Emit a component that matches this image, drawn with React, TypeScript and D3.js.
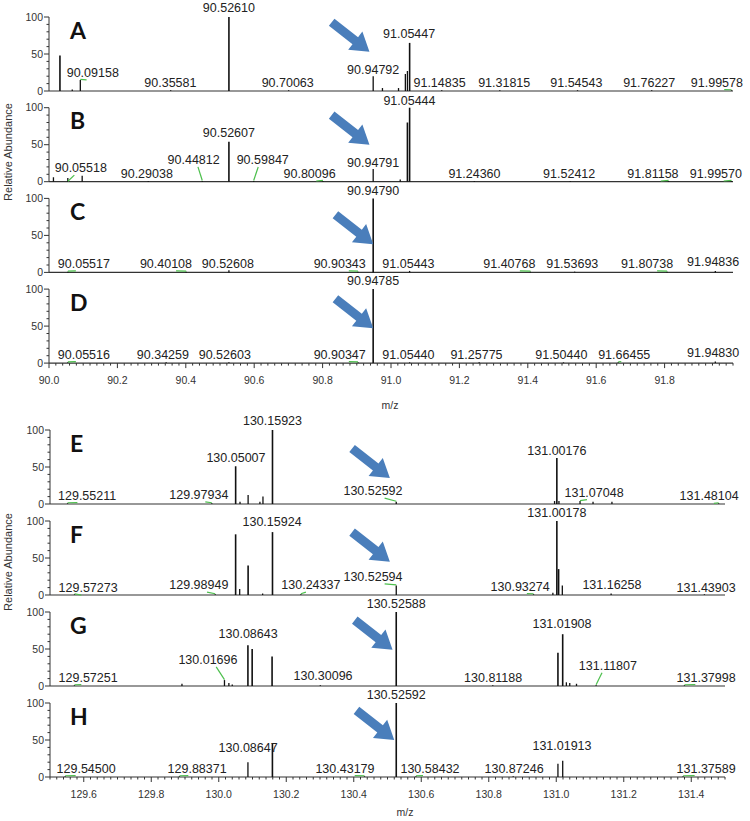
import React from "react";
import * as d3 from "d3";

const W = 750;
const H = 821;

type Peak = [number, number];
type Label = [number, number, number]; // peak m/z, label centre m/z, label baseline (rel. abundance)

// ---------- top group (m/z 90-92) ----------
const peaksA: Peak[] = [
  [90.032, 48], [90.068, 2], [90.09158, 15], [90.35581, 1], [90.5261, 100], [90.70063, 1],
  [90.94792, 20], [90.975, 4], [91.022, 4], [91.042, 23], [91.048, 27], [91.05447, 65],
  [91.14835, 1], [91.31815, 1], [91.54543, 1], [91.76227, 1], [91.99578, 1],
];
const labelsA: Label[] = [
  [90.09158, 90.128, 19], [90.35581, 90.355, 6], [90.5261, 90.5261, 107], [90.70063, 90.698, 6],
  [90.94792, 90.94792, 23], [91.05447, 91.053, 72], [91.14835, 91.142, 6], [91.31815, 91.331, 6],
  [91.54543, 91.542, 6], [91.76227, 91.755, 5], [91.99578, 91.953, 6],
];
const peaksB: Peak[] = [
  [90.013, 6], [90.055, 5], [90.097, 8], [90.29038, 1], [90.44812, 1], [90.52607, 54],
  [90.59847, 1], [90.80096, 1], [90.94791, 17], [91.027, 3], [91.048, 80], [91.05444, 100],
  [91.2436, 1], [91.52412, 1], [91.81158, 1], [91.9957, 1],
];
const labelsB: Label[] = [
  [90.05518, 90.093, 13], [90.29038, 90.286, 5], [90.44812, 90.423, 24], [90.52607, 90.52607, 60],
  [90.59847, 90.625, 24], [90.80096, 90.762, 5], [90.94791, 90.94791, 20], [91.05444, 91.054, 103],
  [91.2436, 91.244, 5], [91.52412, 91.521, 5], [91.81158, 91.766, 5], [91.9957, 91.95, 5],
];
const peaksC: Peak[] = [
  [90.05517, 1], [90.40108, 1], [90.52608, 3], [90.90343, 1], [90.9479, 100], [91.05443, 2],
  [91.40768, 1], [91.53693, 1], [91.80738, 1], [91.94836, 2],
];
const labelsC: Label[] = [
  [90.05517, 90.102, 6], [90.40108, 90.342, 6], [90.52608, 90.523, 6], [90.90343, 90.85, 6],
  [90.9479, 90.9479, 105], [91.05443, 91.051, 6], [91.40768, 91.346, 6], [91.53693, 91.53, 6],
  [91.80738, 91.749, 6], [91.94836, 91.942, 8],
];
const peaksD: Peak[] = [
  [90.05516, 1], [90.34259, 1], [90.52603, 1], [90.90347, 1], [90.94785, 100], [91.0544, 1],
  [91.25775, 1], [91.5044, 1], [91.66455, 1], [91.9483, 2],
];
const labelsD: Label[] = [
  [90.05516, 90.102, 6], [90.34259, 90.333, 6], [90.52603, 90.514, 6], [90.90347, 90.85, 6],
  [90.94785, 90.94785, 105], [91.0544, 91.051, 6], [91.25775, 91.25, 6], [91.5044, 91.498, 6],
  [91.66455, 91.682, 6], [91.9483, 91.942, 8],
];

// ---------- bottom group (m/z 129.5-131.5) ----------
const peaksE: Peak[] = [
  [129.55211, 1], [129.97934, 1], [130.05007, 51], [130.063, 3], [130.087, 12], [130.122, 3],
  [130.131, 10], [130.15923, 100], [130.52592, 3], [130.995, 4], [131.00176, 62], [131.008, 4],
  [131.07048, 4], [131.109, 3], [131.165, 3], [131.48104, 1],
];
const labelsE: Label[] = [
  [129.55211, 129.61, 6], [129.97934, 129.941, 7], [130.05007, 130.051, 57], [130.15923, 130.15923, 107],
  [130.52592, 130.457, 12], [131.00176, 131.00176, 66], [131.07048, 131.112, 10], [131.48104, 131.453, 5],
];
const peaksF: Peak[] = [
  [129.57273, 1], [129.98949, 1], [130.05, 82], [130.062, 8], [130.087, 40], [130.13, 2],
  [130.15924, 85], [130.24337, 1], [130.52594, 13], [130.93274, 1], [130.99, 3], [131.00178, 100],
  [131.007, 35], [131.018, 13], [131.16258, 2], [131.43903, 1],
];
const labelsF: Label[] = [
  [129.57273, 129.613, 4], [129.98949, 129.941, 8], [130.15924, 130.158, 93], [130.24337, 130.273, 8],
  [130.52594, 130.457, 19], [130.93274, 130.893, 6], [131.00178, 131.00178, 105], [131.16258, 131.165, 8],
  [131.43903, 131.444, 4],
];
const peaksG: Peak[] = [
  [129.57251, 1], [129.891, 3], [130.01696, 8], [130.03, 4], [130.04, 2], [130.08643, 55],
  [130.099, 50], [130.158, 40], [130.30096, 1], [130.52588, 100], [130.81188, 1], [131.005, 45],
  [131.01908, 70], [131.03, 5], [131.04, 4], [131.06, 3], [131.11807, 1], [131.37998, 1],
];
const labelsG: Label[] = [
  [129.57251, 129.613, 6], [130.01696, 129.968, 30], [130.08643, 130.087, 65], [130.30096, 130.309, 8],
  [130.52588, 130.52588, 105], [130.81188, 130.813, 6], [131.01908, 131.017, 78], [131.11807, 131.153, 22],
  [131.37998, 131.444, 6],
];
const peaksH: Peak[] = [
  [129.545, 1], [129.88371, 1], [130.08647, 20], [130.159, 45], [130.43179, 1], [130.52592, 100],
  [130.58432, 1], [130.87246, 1], [131.005, 18], [131.01913, 22], [131.37589, 1],
];
const labelsH: Label[] = [
  [129.545, 129.607, 6], [129.88371, 129.936, 6], [130.08647, 130.087, 34], [130.43179, 130.374, 6],
  [130.52592, 130.52592, 106], [130.58432, 130.626, 6], [130.87246, 130.875, 6], [131.01913, 131.017, 36],
  [131.37589, 131.444, 6],
];

const lettersTop = ["A", "B", "C", "D"];
const lettersBottom = ["E", "F", "G", "H"];
// arrow tip positions: [m/z, relative abundance]
const arrowsTop: [number, number][] = [[90.937, 53], [90.937, 50], [90.948, 38], [90.948, 47]];
const arrowsBottom: [number, number][] = [[130.507, 35], [130.507, 45], [130.515, 49], [130.52, 50]];
const xTicksTop = [90.0, 90.2, 90.4, 90.6, 90.8, 91.0, 91.2, 91.4, 91.6, 91.8];
const xTicksBottom = [129.6, 129.8, 130.0, 130.2, 130.4, 130.6, 130.8, 131.0, 131.2, 131.4];
const yTicks = [0, 50, 100];
const yLabel = "Relative Abundance";
const xLabel = "m/z";

const FONT = "'Liberation Sans', Arial, sans-serif";
const ARROW = "#4a7ebb";
const GREEN = "#4cbf4c";

function Arrow({ tx, ty }: { tx: number; ty: number }) {
  const dx = 37, dy = 29;
  const len = Math.hypot(dx, dy);
  const ux = dx / len, uy = dy / len;
  const nx = -uy, ny = ux;
  const L = 48, headL = 18, sw = 4.5, hw = 11.5;
  const Tx = tx - ux * L, Ty = ty - uy * L;
  const Bx = tx - ux * headL, By = ty - uy * headL;
  const pts = [
    [Tx + nx * sw, Ty + ny * sw],
    [Bx + nx * sw, By + ny * sw],
    [Bx + nx * hw, By + ny * hw],
    [tx, ty],
    [Bx - nx * hw, By - ny * hw],
    [Bx - nx * sw, By - ny * sw],
    [Tx - nx * sw, Ty - ny * sw],
  ];
  return <polygon points={pts.map((p) => p.join(",")).join(" ")} fill={ARROW} />;
}

function Panel(props: {
  x: d3.ScaleLinear<number, number>;
  top: number;
  peaks: Peak[];
  labels: Label[];
  letter: string;
  arrow: [number, number];
  axisTicks?: number[];
}) {
  const { x, top, peaks, labels, letter, arrow, axisTicks } = props;
  const bottom = top + 74;
  const y = d3.scaleLinear().domain([0, 100]).range([bottom, top]);
  const [x0, x1] = x.range();
  const minorY = d3.range(0, 101, 10);
  const peakMap = new Map(peaks.map((p) => [p[0], p[1]]));
  const d0 = x.domain()[0], d1 = x.domain()[1];
  const minorX = axisTicks ? d3.range(Math.round(d0 * 50), Math.round(d1 * 50) + 1).map((v) => v / 50) : [];
  return (
    <g>
      {/* y axis */}
      <line x1={x0} x2={x0} y1={y(100)} y2={y(0)} stroke="#333" strokeWidth={1} />
      {minorY.map((t) => (
        <line key={"m" + t} x1={x0} x2={x0 - (t % 50 === 0 ? 5 : 2.5)} y1={y(t)} y2={y(t)} stroke="#333" strokeWidth={1} />
      ))}
      {yTicks.map((t) => (
        <text key={t} x={x0 - 6} y={y(t)} dy="0.35em" textAnchor="end" fontSize={10.5} fill="#333" fontFamily={FONT}>
          {t}
        </text>
      ))}
      {/* baseline */}
      <line x1={x0} x2={x1} y1={y(0)} y2={y(0)} stroke="#333" strokeWidth={1.2} />
      {axisTicks &&
        minorX.map((t, i) => {
          const major = axisTicks.some((a) => Math.abs(a - t) < 1e-6);
          return (
            <line key={"xt" + i} x1={x(t)} x2={x(t)} y1={y(0)} y2={y(0) + (major ? 5 : 2.5)} stroke="#333" strokeWidth={1} />
          );
        })}
      {axisTicks &&
        axisTicks.map((t) => (
          <text key={"xl" + t} x={x(t)} y={y(0) + 21} textAnchor="middle" fontSize={10.5} fill="#333" fontFamily={FONT}>
            {t.toFixed(1)}
          </text>
        ))}
      {/* peaks */}
      {peaks.map(([mz, v], i) => (
        <line key={"p" + i} x1={x(mz)} x2={x(mz)} y1={y(0)} y2={y(v)} stroke="#111" strokeWidth={v > 30 ? 1.6 : 1.3} />
      ))}
      {/* labels + leaders */}
      {labels.map(([mz, lx, ly], i) => {
        const px = x(mz);
        const cx = x(lx);
        const h = peakMap.get(mz) ?? 0;
        const off = Math.abs(cx - px) > 5;
        return (
          <g key={"l" + i}>
            {off && (
              <line
                x1={px}
                y1={y(h) - 0.5}
                x2={px + (cx - px) * 0.5}
                y2={y(ly) + 3}
                stroke={GREEN}
                strokeWidth={1.2}
              />
            )}
            <text x={cx} y={y(ly)} textAnchor="middle" fontSize={12.5} fill="#222" fontFamily={FONT}>
              {mz.toFixed(5)}
            </text>
          </g>
        );
      })}
      <text x={70} y={top + 21.5} fontSize={23} fontWeight={700} fill="#111" fontFamily="Lato, 'Open Sans', sans-serif">
        {letter}
      </text>
      <Arrow tx={x(arrow[0])} ty={y(arrow[1])} />
    </g>
  );
}

export default function App() {
  const xTop = d3.scaleLinear().domain([90, 92]).range([49, 733]);
  const xBot = d3.scaleLinear().domain([129.5, 131.5]).range([50, 725]);
  const topPeaks = [peaksA, peaksB, peaksC, peaksD];
  const topLabels = [labelsA, labelsB, labelsC, labelsD];
  const botPeaks = [peaksE, peaksF, peaksG, peaksH];
  const botLabels = [labelsE, labelsF, labelsG, labelsH];
  return (
    <svg
      width={W}
      height={H}
      viewBox={`0 0 ${W} ${H}`}
      style={{ position: "absolute", left: 0, top: 0, background: "#fff" }}
    >
      <rect width={W} height={H} fill="#fff" />
      {topPeaks.map((p, i) => (
        <Panel
          key={"t" + i}
          x={xTop}
          top={17 + i * 90.7}
          peaks={p}
          labels={topLabels[i]}
          letter={lettersTop[i]}
          arrow={arrowsTop[i]}
          axisTicks={i === 3 ? xTicksTop : undefined}
        />
      ))}
      {botPeaks.map((p, i) => (
        <Panel
          key={"b" + i}
          x={xBot}
          top={430 + i * 91}
          peaks={p}
          labels={botLabels[i]}
          letter={lettersBottom[i]}
          arrow={arrowsBottom[i]}
          axisTicks={i === 3 ? xTicksBottom : undefined}
        />
      ))}
      <text x={390} y={409} textAnchor="middle" fontSize={10.5} fill="#333" fontFamily={FONT}>
        {xLabel}
      </text>
      <text x={405} y={816} textAnchor="middle" fontSize={10.5} fill="#333" fontFamily={FONT}>
        {xLabel}
      </text>
      <text transform="translate(12,152) rotate(-90)" textAnchor="middle" fontSize={11} fill="#333" fontFamily={FONT}>
        {yLabel}
      </text>
      <text transform="translate(12,562) rotate(-90)" textAnchor="middle" fontSize={11} fill="#333" fontFamily={FONT}>
        {yLabel}
      </text>
    </svg>
  );
}
